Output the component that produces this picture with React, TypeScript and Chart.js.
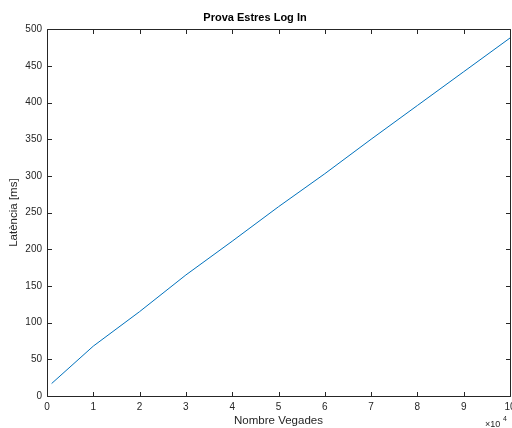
import React, { useEffect, useRef } from "react";
import { Chart, registerables } from "chart.js";

Chart.register(...registerables);

const titleText = "Prova Estres Log In";
const xLabel = "Nombre Vegades";
const yLabel = "Latència [ms]";
const xValues = [1000, 10000, 20000, 30000, 40000, 50000, 60000, 70000, 80000, 90000, 100000];
const latency = [17, 68, 115, 165, 211, 258, 303, 350, 396, 442, 488];
const xTickValues = [0, 10000, 20000, 30000, 40000, 50000, 60000, 70000, 80000, 90000, 100000];
const yTickValues = [0, 50, 100, 150, 200, 250, 300, 350, 400, 450, 500];

const AXIS = "#262626";
const FONT = "'Liberation Sans', Arial, Helvetica, sans-serif";

const boxPlugin = {
  id: "matlabBox",
  afterDatasetsDraw(chart: any) {
    const { ctx, chartArea } = chart;
    const { left, right, top, bottom } = chartArea;
    const xs = chart.scales.x;
    const ys = chart.scales.y;
    const tl = 4.5;
    ctx.save();
    ctx.strokeStyle = AXIS;
    ctx.lineWidth = 1;
    ctx.beginPath();
    const L = Math.round(left) + 0.5;
    const R = Math.round(right) + 0.5;
    const T = Math.round(top) + 0.5;
    const B = Math.round(bottom) + 0.5;
    ctx.rect(L, T, R - L, B - T);
    for (const v of xTickValues) {
      const px = Math.round(xs.getPixelForValue(v)) + 0.5;
      ctx.moveTo(px, B);
      ctx.lineTo(px, B - tl);
      ctx.moveTo(px, T);
      ctx.lineTo(px, T + tl);
    }
    for (const v of yTickValues) {
      const py = Math.round(ys.getPixelForValue(v)) + 0.5;
      ctx.moveTo(L, py);
      ctx.lineTo(L + tl, py);
      ctx.moveTo(R, py);
      ctx.lineTo(R - tl, py);
    }
    ctx.stroke();
    // exponent label
    ctx.fillStyle = AXIS;
    ctx.textBaseline = "alphabetic";
    ctx.textAlign = "left";
    ctx.font = `9px ${FONT}`;
    ctx.fillText("×10", 485, 427);
    ctx.font = `7px ${FONT}`;
    ctx.fillText("4", 503, 421);
    ctx.restore();
  },
};

export default function App() {
  const ref = useRef<HTMLCanvasElement | null>(null);

  useEffect(() => {
    if (!ref.current) return;
    const chart = new Chart(ref.current, {
      type: "line",
      data: {
        datasets: [
          {
            data: xValues.map((x, i) => ({ x, y: latency[i] })),
            borderColor: "#0072BD",
            borderWidth: 1,
            pointRadius: 0,
            fill: false,
            tension: 0,
          },
        ],
      },
      options: {
        animation: false,
        responsive: false,
        maintainAspectRatio: false,
        layout: { padding: { left: 0, right: 2, top: 0, bottom: 0 } },
        plugins: {
          legend: { display: false },
          tooltip: { enabled: false },
          title: {
            display: true,
            text: titleText,
            color: "#000",
            font: { family: FONT, size: 11, weight: "bold" },
            padding: { top: 11, bottom: 5 },
          },
        },
        scales: {
          x: {
            type: "linear",
            min: 0,
            max: 100000,
            grid: { display: false, drawTicks: false },
            border: { display: false },
            ticks: {
              stepSize: 10000,
              padding: 5,
              color: AXIS,
              maxRotation: 0,
              autoSkip: false,
              font: { family: FONT, size: 10 },
              callback: (v: any) => String(Number(v) / 10000),
            },
            title: {
              display: true,
              text: xLabel,
              color: AXIS,
              font: { family: FONT, size: 11.5 },
              padding: { top: 0, bottom: 0 },
            },
            afterFit: (s: any) => {
              s.height = 32;
              s.paddingLeft = 0;
              s.paddingRight = 0;
            },
          },
          y: {
            type: "linear",
            min: 0,
            max: 500,
            grid: { display: false, drawTicks: false },
            border: { display: false },
            ticks: {
              stepSize: 50,
              padding: 5,
              color: AXIS,
              autoSkip: false,
              font: { family: FONT, size: 10 },
            },
            title: {
              display: true,
              text: yLabel,
              color: AXIS,
              font: { family: FONT, size: 11.5 },
              padding: { top: 7, bottom: 0 },
            },
            afterFit: (s: any) => {
              s.width = 47;
              s.paddingTop = 0;
              s.paddingBottom = 0;
            },
          },
        },
      },
      plugins: [boxPlugin],
    } as any);
    return () => chart.destroy();
  }, []);

  return (
    <div style={{ position: "fixed", left: 0, top: 0, width: 512, height: 428, overflow: "hidden", background: "#fff" }}>
      <canvas ref={ref} width={512} height={428} style={{ display: "block" }} />
    </div>
  );
}
